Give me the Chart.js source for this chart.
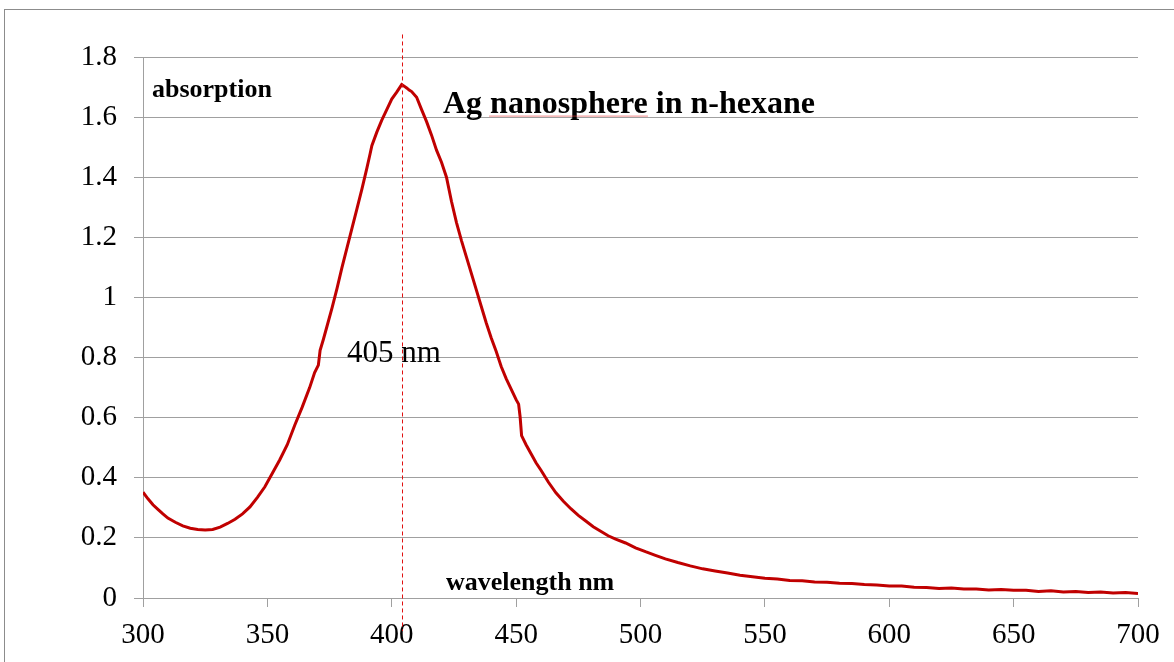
<!DOCTYPE html>
<html>
<head>
<meta charset="utf-8">
<script src="https://cdn.jsdelivr.net/npm/chart.js@4.4.0/dist/chart.umd.min.js"></script>
<style>
  html, body { margin: 0; padding: 0; background: #fff; }
  #spectrum { display: block; }
</style>
</head>
<body>
<canvas id="spectrum" width="1174" height="662"></canvas>
<script>
// wavelength (nm) and absorbance
const wavelengths = [
  300, 302, 304, 306, 308, 310, 313, 316, 319, 322, 325, 328, 331, 334, 337, 340,
  343, 346, 349, 352, 355, 358, 361, 364, 367, 369, 370.5, 371.2, 372.5, 374, 376,
  378, 380, 382, 384, 386, 388, 390, 391.3, 392, 394, 396, 398, 400, 402, 404, 405,
  406, 407, 408, 410, 412, 414, 416, 418, 420, 422, 424, 426, 428, 430, 432, 434,
  436, 438, 440, 442, 444, 446, 448, 450, 451, 451.6, 452.2, 454, 456, 458, 460,
  463, 466, 469, 472, 475, 478, 481, 484, 487, 490, 494, 498, 502, 506, 510, 515,
  520, 525, 530, 535, 540, 545, 550, 555, 560, 565, 570, 575, 580, 585, 590, 595,
  600, 605, 610, 615, 620, 625, 630, 635, 640, 645, 650, 655, 660, 665, 670, 675,
  680, 685, 690, 695, 700
];
const absorbance = [
  0.352, 0.330, 0.310, 0.295, 0.280, 0.266, 0.252, 0.240, 0.232, 0.228, 0.226, 0.228, 0.236, 0.248, 0.262, 0.280,
  0.303, 0.335, 0.370, 0.415, 0.460, 0.510, 0.575, 0.635, 0.700, 0.750, 0.775, 0.824, 0.860, 0.905, 0.965,
  1.030, 1.100, 1.165, 1.230, 1.295, 1.360, 1.430, 1.478, 1.505, 1.550, 1.590, 1.625, 1.660, 1.683, 1.708, 1.703,
  1.697, 1.690, 1.685, 1.666, 1.625, 1.585, 1.540, 1.490, 1.450, 1.400, 1.320, 1.250, 1.190, 1.135, 1.080, 1.025,
  0.970, 0.915, 0.865, 0.820, 0.770, 0.730, 0.695, 0.660, 0.645, 0.603, 0.540, 0.510, 0.480, 0.450, 0.425,
  0.385, 0.350, 0.322, 0.297, 0.275, 0.256, 0.237, 0.222, 0.207, 0.196, 0.183, 0.167, 0.154, 0.142, 0.130, 0.118,
  0.107, 0.097, 0.090, 0.083, 0.076, 0.071, 0.066, 0.063, 0.058, 0.057, 0.053, 0.052, 0.049, 0.048, 0.045, 0.043,
  0.040, 0.040, 0.036, 0.035, 0.032, 0.033, 0.030, 0.030, 0.027, 0.028, 0.026, 0.026, 0.022, 0.024, 0.020, 0.022,
  0.018, 0.020, 0.017, 0.018, 0.015
];
const xTicks = [300, 350, 400, 450, 500, 550, 600, 650, 700];
const yTicks = [0, 0.2, 0.4, 0.6, 0.8, 1, 1.2, 1.4, 1.6, 1.8];
const peakNm = 404;

const serif = '"Liberation Serif", "Times New Roman", serif';
const gridGray = '#a0a0a0';

const notes = {
  id: 'notes',
  beforeDraw(chart) {
    const c = chart.ctx;
    c.save();
    c.strokeStyle = '#8c8c8c';
    c.lineWidth = 1;
    c.strokeRect(4.5, 9.5, 1300, 800);
    c.restore();
  },
  afterDatasetsDraw(chart) {
    const c = chart.ctx, xs = chart.scales.x, ys = chart.scales.y;
    c.save();
    // peak marker
    const px = Math.round(xs.getPixelForValue(peakNm)) + 0.5;
    c.strokeStyle = '#e01010';
    c.lineWidth = 1;
    c.setLineDash([4, 3]);
    c.beginPath();
    c.moveTo(px, ys.getPixelForValue(1.875));
    c.lineTo(px, ys.getPixelForValue(-0.11));
    c.stroke();
    c.setLineDash([]);

    c.fillStyle = '#000';
    c.textBaseline = 'alphabetic';
    c.textAlign = 'left';
    const put = (txt, font, x, y) => {
      c.font = font;
      c.fillText(txt, xs.getPixelForValue(x), ys.getPixelForValue(y));
    };
    put('absorption', 'bold 26px ' + serif, 303.6, 1.667);
    put('Ag nanosphere in n-hexane', 'bold 32px ' + serif, 420.6, 1.613);
    put('405 nm', '31px ' + serif, 382.0, 0.785);
    put('wavelength nm', 'bold 26px ' + serif, 421.8, 0.025);

    // spell-check squiggle under "nanosphere"
    c.strokeStyle = 'rgba(230,60,60,0.6)';
    c.lineWidth = 1;
    c.beginPath();
    c.moveTo(xs.getPixelForValue(439.1), ys.getPixelForValue(1.605) + 0.5);
    c.lineTo(xs.getPixelForValue(503.0), ys.getPixelForValue(1.605) + 0.5);
    c.stroke();
    c.restore();
  }
};

new Chart(document.getElementById('spectrum'), {
  type: 'line',
  data: {
    datasets: [{
      data: wavelengths.map((w, i) => ({x: w, y: absorbance[i]})),
      borderColor: '#c00000',
      borderWidth: 3,
      pointRadius: 0,
      tension: 0,
      fill: false
    }]
  },
  options: {
    responsive: false,
    animation: false,
    events: [],
    layout: {padding: {left: 0, top: 57, right: 36, bottom: 0}},
    plugins: {legend: {display: false}, tooltip: {enabled: false}},
    scales: {
      x: {
        type: 'linear',
        min: 300,
        max: 700,
        afterBuildTicks: s => { s.ticks = xTicks.map(v => ({value: v})); },
        afterFit: s => { s.height = 64; },
        grid: {drawOnChartArea: false, color: gridGray, tickLength: 9},
        border: {color: gridGray},
        ticks: {color: '#000', font: {family: serif, size: 29}, padding: 11, maxRotation: 0}
      },
      y: {
        min: 0,
        max: 1.8,
        afterBuildTicks: s => { s.ticks = yTicks.map(v => ({value: v})); },
        afterFit: s => { s.width = 143; },
        grid: {color: gridGray, tickLength: 9},
        border: {color: gridGray},
        ticks: {
          color: '#000',
          font: {family: serif, size: 29},
          padding: 17,
          callback: v => String(Number(v.toFixed(1)))
        }
      }
    }
  },
  plugins: [notes]
});
</script>
</body>
</html>
